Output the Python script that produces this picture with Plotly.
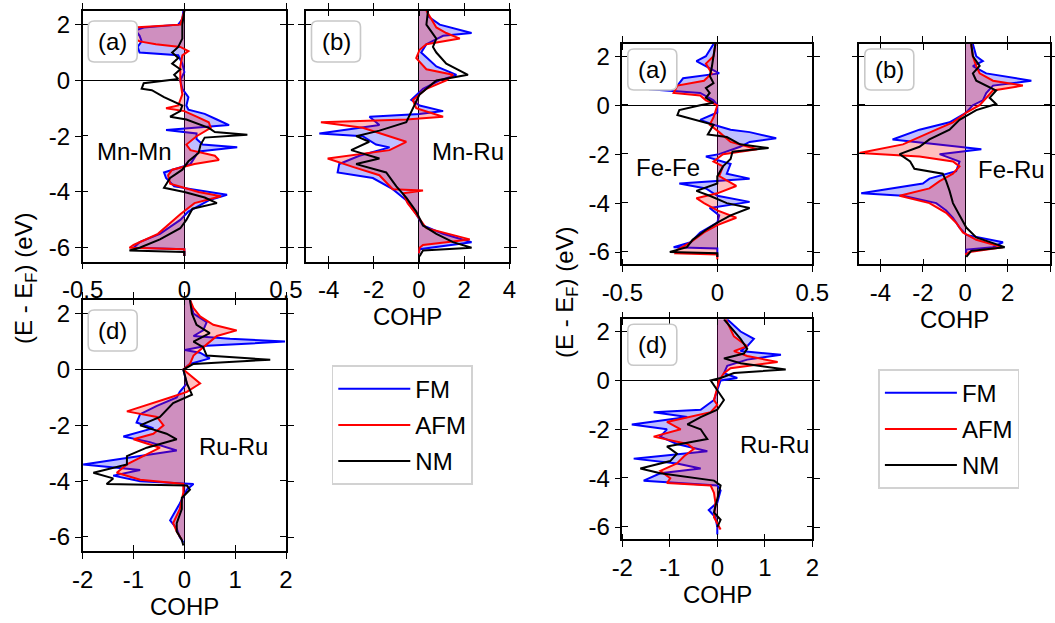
import plotly.graph_objects as go

W, H = 1055, 623
FONT = "Liberation Sans, Arial, Helvetica, sans-serif"
FS = 24

# ---------------- data: Mn compound ----------------
# (a) Mn-Mn
MNMN_FM_E = [2.5, 2.2, 2.0, 1.9, 1.8, 1.6, 1.4, 1.2, 1.0, 0.9, 0.6, 0.3, 0.0, -0.3, -0.6, -0.9, -1.05, -1.2, -1.4, -1.6,
             -1.7, -1.78, -1.9, -2.1, -2.3, -2.4, -2.55, -3.0, -3.3, -3.5, -3.8, -3.95, -4.1, -4.3, -4.7, -5.0, -5.5,
             -5.8, -6.0, -6.05, -6.3]
MNMN_FM_X = [-0.005, -0.01, -0.03, -0.20, -0.24, -0.22, -0.21, -0.23, -0.22, -0.03, -0.01, 0.0, -0.02, -0.01, 0.02,
             0.01, 0.02, 0.10, 0.16, 0.22, 0.05, -0.09, 0.06, 0.06, 0.09, 0.26, 0.07, 0.03, -0.10, -0.09, -0.05, 0.08,
             0.21, 0.12, 0.02, -0.02, -0.12, -0.22, -0.25, 0.0, 0.0]
MNMN_AFM_E = [2.5, 2.0, 1.9, 1.8, 1.6, 1.4, 1.3, 1.2, 1.05, 0.9, 0.5, 0.0, -0.5, -0.9, -1.0, -1.1, -1.3, -1.5, -1.7,
              -2.0, -2.3, -2.5, -2.7, -2.85, -3.0, -3.2, -3.4, -3.7, -4.0, -4.15, -4.4, -4.8, -5.5, -5.9, -6.0, -6.05,
              -6.3]
MNMN_AFM_X = [0.0, -0.02, -0.25, -0.28, -0.27, -0.22, -0.14, -0.02, 0.02, -0.01, -0.02, -0.02, -0.01, -0.03, -0.09,
              0.0, 0.06, 0.12, 0.13, 0.06, 0.01, 0.03, 0.15, 0.17, 0.05, -0.06, -0.08, -0.07, 0.07, 0.18, 0.05, -0.02,
              -0.13, -0.25, -0.27, 0.0, 0.0]
MNMN_NM_E = [2.5, 2.0, 1.5, 1.2, 1.0, 0.8, 0.6, 0.4, 0.2, 0.05, -0.1, -0.3, -0.35, -0.6, -0.9, -1.1, -1.3, -1.4, -1.7,
             -1.85, -1.95, -2.05, -2.3, -2.6, -2.9, -3.2, -3.5, -3.85, -4.0, -4.2, -4.4, -4.6, -5.0, -5.3, -5.7, -6.0,
             -6.1, -6.15, -6.3]
MNMN_NM_X = [0.0, -0.01, -0.01, -0.03, -0.06, -0.03, -0.06, -0.02, -0.05, -0.03, -0.20, -0.21, -0.16, -0.10, -0.01,
             -0.02, -0.07, 0.01, 0.12, 0.15, 0.31, 0.10, 0.08, 0.07, 0.02, -0.01, -0.07, -0.10, 0.0, 0.10, 0.16, 0.04,
             0.01, -0.02, -0.12, -0.22, -0.27, 0.0, 0.0]

# (b) Mn-Ru
MNRU_FM_E = [2.5, 2.3, 2.0, 1.7, 1.6, 1.3, 1.0, 0.5, 0.2, 0.0, -0.3, -0.7, -0.9, -1.1, -1.2, -1.3, -1.6, -1.9, -2.0,
             -2.3, -2.4, -2.7, -3.0, -3.3, -3.5, -3.9, -4.3, -4.8, -5.2, -5.5, -5.8, -6.0, -6.05, -6.2]
MNRU_FM_X = [0.4, 0.4, 0.92, 2.33, 1.07, 0.33, 0.1, 0.77, 1.66, 0.92, 0.18, -0.34, 0.03, 1.07, 0.03, -2.19, -1.75,
             -4.41, -2.49, -1.9, -1.3, -2.64, -3.53, -3.6, -2.04, -1.16, -0.56, -0.12, 0.18, 1.07, 2.33, 0.33, 0.03,
             0.0]
MNRU_AFM_E = [2.5, 1.9, 1.7, 1.5, 1.3, 1.1, 0.8, 0.4, 0.2, 0.0, -0.3, -0.7, -1.0, -1.3, -1.4, -1.5, -1.7, -2.0, -2.2,
              -2.5, -2.8, -3.1, -3.4, -3.9, -3.95, -4.05, -4.4, -4.8, -5.3, -5.7, -5.9, -6.0, -6.2]
MNRU_AFM_X = [0.33, 0.77, 1.21, 1.81, 0.33, 0.03, -0.12, 0.33, 1.51, 1.21, 0.33, -0.27, -0.12, 1.07, -0.56, -4.34,
              -2.49, -1.3, -0.56, -1.3, -4.04, -2.93, -1.75, -1.16, 0.18, -0.7, -0.5, -0.12, 0.33, 2.25, 0.18, 0.03,
              0.0]
MNRU_NM_E = [2.5, 2.0, 1.5, 1.2, 1.0, 0.6, 0.2, 0.0, -0.5, -1.0, -1.5, -1.8, -2.0, -2.2, -2.5, -2.8, -3.0, -3.3, -3.8,
             -4.2, -4.7, -5.2, -5.5, -5.8, -6.0, -6.1, -6.3]
MNRU_NM_X = [0.4, 0.33, 0.77, 0.62, 0.77, 1.21, 2.17, 0.77, 0.03, -0.27, -0.56, -1.75, -2.78, -2.2, -3.0, -1.75, -2.78,
             -1.45, -1.0, -0.56, -0.12, 0.18, 0.77, 1.51, 2.33, 0.18, 0.03]

# (d) Ru-Ru (Mn compound)
MNRURU_FM_E = [2.5, 2.0, 1.7, 1.4, 1.2, 1.1, 1.0, 0.85, 0.7, 0.6, 0.4, 0.2, 0.0, -0.5, -0.8, -1.0, -1.3, -1.6, -1.9,
               -2.1, -2.4, -2.6, -2.9, -3.1, -3.4, -3.6, -3.8, -4.0, -4.1, -4.3, -4.8, -5.4, -5.7, -6.0, -6.2]
MNRURU_FM_X = [0.11, 0.18, 0.44, 0.37, 0.18, 0.9, 1.98, 0.44, 0.01, 0.31, 0.5, 0.11, -0.02, 0.05, -0.09, -0.15, -0.54,
               -0.87, -0.94, -0.61, -1.2, -0.68, -0.15, -0.87, -1.99, -0.87, -1.4, -0.87, 0.18, 0.05, -0.09, -0.28,
               -0.15, -0.09, -0.02]
MNRURU_AFM_E = [2.5, 2.2, 1.9, 1.6, 1.4, 1.2, 0.9, 0.7, 0.5, 0.2, 0.0, -0.5, -0.8, -1.0, -1.5, -1.7, -2.0, -2.3, -2.5,
                -2.8, -3.1, -3.4, -3.7, -3.95, -4.1, -4.4, -5.0, -5.5, -5.8, -6.1]
MNRURU_AFM_X = [0.11, 0.18, 0.31, 0.57, 1.03, 0.64, 0.44, 0.31, 0.18, 0.11, -0.02, 0.31, 0.05, -0.28, -1.13, -0.54,
                -0.41, -0.61, -1.0, -0.48, -0.81, -1.13, -1.33, -0.87, -0.02, -0.02, -0.09, -0.22, -0.15, -0.05]
MNRURU_NM_E = [2.5, 2.0, 1.6, 1.3, 1.0, 0.8, 0.5, 0.35, 0.2, 0.0, -0.5, -0.9, -1.2, -1.7, -2.0, -2.3, -2.5, -2.8, -3.1,
               -3.4, -3.7, -3.9, -4.1, -4.15, -4.3, -4.6, -5.0, -5.5, -5.8, -6.1, -6.3]
MNRURU_NM_X = [0.11, 0.15, 0.24, 0.5, 0.18, 0.37, 0.44, 1.69, 0.18, -0.02, 0.05, 0.15, -0.22, -0.48, -0.87, -0.35,
               -0.15, -0.74, -1.13, -1.13, -1.79, -1.4, -1.53, 0.05, 0.11, -0.05, -0.05, -0.15, -0.15, -0.05, -0.02]

# ---------------- data: Fe compound ----------------
# (a) Fe-Fe
FEFE_FM_E = [2.5, 2.0, 1.8, 1.5, 1.3, 1.1, 0.8, 0.65, 0.5, 0.2, 0.0, -0.3, -0.6, -0.8, -1.0, -1.1, -1.35, -1.5, -1.7,
             -2.0, -2.1, -2.4, -2.8, -3.0, -3.2, -3.4, -3.7, -3.95, -4.2, -4.5, -4.8, -5.2, -5.6, -5.8, -5.85, -6.2]
FEFE_FM_X = [-0.02, -0.06, -0.11, -0.04, 0.01, -0.18, -0.21, -0.36, -0.09, -0.02, 0.0, 0.0, -0.09, -0.02, 0.07, 0.17,
             0.31, 0.17, 0.12, 0.01, -0.06, 0.07, 0.05, 0.17, -0.20, -0.06, 0.0, 0.17, -0.04, 0.01, 0.0, -0.09, -0.14,
             -0.23, 0.0, 0.0]
FEFE_AFM_E = [2.5, 2.0, 1.7, 1.3, 1.0, 0.8, 0.5, 0.4, 0.2, 0.0, -0.5, -0.8, -1.1, -1.5, -1.8, -2.0, -2.3, -2.5, -2.9,
              -3.3, -3.6, -3.8, -4.0, -4.3, -4.6, -4.9, -5.2, -5.6, -5.9, -6.05, -6.1, -6.3]
FEFE_AFM_X = [-0.01, -0.02, -0.06, -0.03, -0.07, -0.21, -0.23, -0.09, -0.06, 0.0, -0.02, -0.04, 0.01, 0.07, 0.21, 0.03,
              -0.02, 0.03, 0.01, 0.10, 0.0, -0.11, -0.07, 0.0, 0.10, 0.0, -0.07, -0.14, -0.21, -0.22, 0.0, 0.0]
FEFE_NM_E = [2.5, 2.0, 1.5, 1.2, 0.9, 0.7, 0.5, 0.3, 0.1, 0.0, -0.2, -0.4, -0.6, -0.8, -1.2, -1.3, -1.6, -1.75, -1.9,
             -2.2, -2.5, -2.9, -3.2, -3.5, -3.7, -4.0, -4.2, -4.5, -4.8, -5.1, -5.5, -5.8, -6.0, -6.05, -6.2]
FEFE_NM_X = [-0.01, -0.02, -0.03, -0.04, -0.02, -0.06, -0.04, -0.06, -0.02, -0.09, -0.20, -0.21, -0.11, -0.02, -0.05,
             0.05, 0.12, 0.27, 0.08, 0.07, 0.03, 0.0, 0.0, -0.11, -0.04, 0.05, 0.17, 0.07, 0.0, -0.06, -0.13, -0.16,
             -0.25, 0.0, 0.0]

# (b) Fe-Ru
FERU_FM_E = [2.5, 2.0, 1.8, 1.6, 1.3, 1.0, 0.8, 0.5, 0.2, 0.0, -0.3, -0.7, -1.0, -1.4, -1.6, -1.8, -2.0, -2.3, -2.7,
             -3.0, -3.2, -3.6, -3.7, -4.0, -4.3, -4.6, -5.0, -5.3, -5.6, -5.8, -5.9, -6.1]
FERU_FM_X = [0.36, 0.52, 0.83, 0.36, 0.99, 3.12, 1.31, 0.99, 0.83, 0.36, 0.05, -0.74, -2.16, -3.43, -1.37, 0.76, -1.21,
             -0.27, -0.43, -1.69, -2.0, -4.91, -2.94, -1.37, -0.9, -0.58, -0.27, 0.05, 1.78, 1.31, 0.05, 0.05]
FERU_AFM_E = [2.5, 2.0, 1.6, 1.3, 1.0, 0.8, 0.6, 0.3, 0.0, -0.3, -0.7, -1.0, -1.3, -1.6, -1.95, -2.1, -2.3, -2.5, -2.8,
              -3.1, -3.4, -3.7, -4.0, -4.4, -4.8, -5.2, -5.5, -5.8, -6.0, -6.1]
FERU_AFM_X = [0.28, 0.36, 0.52, 0.68, 1.31, 2.72, 1.31, 0.99, 0.68, 0.05, -0.58, -1.37, -2.16, -2.94, -5.0, -2.16,
              -0.58, -0.27, -0.58, -1.21, -1.69, -3.1, -1.69, -0.9, -0.43, -0.11, 0.52, 1.78, 0.2, 0.0]
FERU_NM_E = [2.5, 2.0, 1.6, 1.3, 1.0, 0.6, 0.3, 0.05, -0.2, -0.6, -1.0, -1.4, -1.7, -2.0, -2.3, -2.6, -2.8, -3.1, -3.5,
             -4.0, -4.5, -5.0, -5.4, -5.8, -5.95, -6.2]
FERU_NM_X = [0.28, 0.36, 0.68, 0.36, 0.52, 1.46, 1.15, 1.46, 0.52, -0.27, -0.74, -1.69, -2.16, -3.1, -2.6, -2.4, -1.06,
             -0.9, -0.74, -0.58, -0.27, 0.05, 0.52, 1.86, 0.28, 0.05]

# (d) Ru-Ru (Fe compound)
FERURU_FM_E = [2.5, 2.0, 1.7, 1.4, 1.2, 1.05, 0.85, 0.6, 0.3, 0.1, 0.0, -0.4, -0.8, -1.2, -1.3, -1.5, -1.8, -2.0, -2.3,
               -2.6, -2.9, -3.2, -3.4, -3.6, -3.8, -4.1, -4.3, -4.5, -5.0, -5.3, -5.6, -6.0, -6.3]
FERURU_FM_X = [0.21, 0.49, 0.77, 0.63, 0.49, 1.34, 0.63, 0.21, 0.14, 0.42, 0.07, 0.0, -0.07, -0.35, -1.34, -0.63, -1.8,
               -1.06, -1.2, -0.85, -0.21, -1.76, -0.85, -0.35, -1.2, -1.55, 0.0, 0.07, 0.0, -0.18, -0.04, 0.0, 0.0]
FERURU_AFM_E = [2.5, 2.1, 1.8, 1.4, 1.2, 1.0, 0.75, 0.5, 0.3, 0.0, -0.3, -0.8, -1.0, -1.3, -1.7, -2.0, -2.3, -2.6,
                -2.8, -3.1, -3.4, -3.7, -4.0, -4.2, -4.3, -4.6, -5.0, -5.6, -6.1]
FERURU_AFM_X = [0.18, 0.28, 0.35, 0.63, 0.35, 0.63, 1.27, 0.28, 0.14, 0.04, 0.0, -0.07, 0.0, -0.14, -1.06, -0.77, -1.34,
                -0.63, -0.49, -0.7, -0.85, -1.2, -0.99, -1.06, -0.14, -0.07, -0.04, -0.07, 0.07]
FERURU_NM_E = [2.5, 2.0, 1.7, 1.3, 1.1, 0.9, 0.7, 0.45, 0.3, 0.1, 0.0, -0.4, -0.8, -1.2, -1.5, -1.8, -2.0, -2.2, -2.4,
               -2.7, -3.0, -3.3, -3.6, -3.8, -4.0, -4.1, -4.3, -4.8, -5.4, -5.7, -6.0]
FERURU_NM_X = [0.14, 0.35, 0.49, 0.63, 0.56, 0.14, 0.49, 1.44, 0.35, 0.07, -0.14, 0.0, 0.14, 0.0, -0.35, -0.63, -0.35,
               -0.28, -0.21, -1.06, -0.85, -0.99, -1.62, -1.2, -0.49, -0.07, 0.07, 0.0, -0.07, 0.07, 0.0]

# ---------------- axes / labels ----------------
E_RANGE = [-6.5, 2.5]
E_TICKS = [2, 0, -2, -4, -6]
E_TICKTEXT = ["2", "0", "-2", "-4", "-6"]
XT_A = [-0.5, 0, 0.5]
XT_A_TEXT = ["-0.5", "0", "0.5"]
XT_B = [-4, -2, 0, 2, 4]
XT_B_TEXT = ["-4", "-2", "0", "2", "4"]
XT_D = [-2, -1, 0, 1, 2]
XT_D_TEXT = ["-2", "-1", "0", "1", "2"]
SERIES = ["FM", "AFM", "NM"]
COLORS = {"FM": "rgb(0,0,255)", "AFM": "rgb(255,0,0)", "NM": "rgb(0,0,0)"}
FILLS = {"FM": "rgba(0,0,255,0.25)", "AFM": "rgba(255,0,0,0.25)"}

# panel definitions: (pair label, panel tag, x range, ticks, ticktext, show y labels,
#                     domain px (x0, x1, ytop, ybottom), group, data, label pos px)
PANELS = [
    ("Mn-Mn", "(a)", [-0.5, 0.5], XT_A, XT_A_TEXT, True, (82.7, 286.0, 10.7, 261.7), 1,
     {"FM": (MNMN_FM_E, MNMN_FM_X), "AFM": (MNMN_AFM_E, MNMN_AFM_X), "NM": (MNMN_NM_E, MNMN_NM_X)}, (134, 152)),
    ("Mn-Ru", "(b)", [-5, 4], XT_B, XT_B_TEXT, False, (306.0, 509.3, 10.7, 261.7), 1,
     {"FM": (MNRU_FM_E, MNRU_FM_X), "AFM": (MNRU_AFM_E, MNRU_AFM_X), "NM": (MNRU_NM_E, MNRU_NM_X)}, (468, 152)),
    ("Ru-Ru", "(d)", [-2, 2], XT_D, XT_D_TEXT, True, (82.7, 286.0, 299.7, 551.0), 1,
     {"FM": (MNRURU_FM_E, MNRURU_FM_X), "AFM": (MNRURU_AFM_E, MNRURU_AFM_X), "NM": (MNRURU_NM_E, MNRURU_NM_X)},
     (233, 446)),
    ("Fe-Fe", "(a)", [-0.5, 0.5], XT_A, XT_A_TEXT, True, (622.3, 812.3, 44.0, 264.3), 2,
     {"FM": (FEFE_FM_E, FEFE_FM_X), "AFM": (FEFE_AFM_E, FEFE_AFM_X), "NM": (FEFE_NM_E, FEFE_NM_X)}, (668, 167)),
    ("Fe-Ru", "(b)", [-5, 4], XT_B, XT_B_TEXT, False, (859.3, 1050.0, 44.0, 264.3), 2,
     {"FM": (FERU_FM_E, FERU_FM_X), "AFM": (FERU_AFM_E, FERU_AFM_X), "NM": (FERU_NM_E, FERU_NM_X)}, (1011, 169)),
    ("Ru-Ru", "(d)", [-2, 2], XT_D, XT_D_TEXT, True, (622.3, 812.3, 319.3, 539.3), 2,
     {"FM": (FERURU_FM_E, FERURU_FM_X), "AFM": (FERURU_AFM_E, FERURU_AFM_X), "NM": (FERURU_NM_E, FERURU_NM_X)},
     (774, 444)),
]


def fx(p):
    return p / W


def fy(p):
    return 1 - p / H


def inward(vals, rng):
    # minor ticks (drawn inward) sitting on the major tick positions -> crossing ticks
    eps = (rng[1] - rng[0]) * 0.001
    return dict(tickmode="array", tickvals=[v + eps for v in vals], ticks="inside", ticklen=6,
                tickwidth=1.4, tickcolor="black", showgrid=False)


fig = go.Figure()
layout = {}
shapes = []
annotations = []

for i, (pair, tag, xr, xt, xtt, showy, dom, grp, data, lpos) in enumerate(PANELS, start=1):
    x0, x1, yt, yb = dom
    xa, ya = ("x" if i == 1 else f"x{i}"), ("y" if i == 1 else f"y{i}")
    legend_name = "legend" if grp == 1 else "legend2"
    first_of_group = i in (1, 4)
    for s in SERIES:
        E, X = data[s]
        if s in FILLS:
            fig.add_trace(go.Scatter(x=X, y=E, mode="lines", line=dict(width=0), fill="tozerox",
                                     fillcolor=FILLS[s], showlegend=False, hoverinfo="skip",
                                     xaxis=xa, yaxis=ya))
        fig.add_trace(go.Scatter(x=X, y=E, mode="lines", name=s,
                                 line=dict(color=COLORS[s], width=2),
                                 showlegend=first_of_group, legend=legend_name,
                                 legendgroup=f"{s}{grp}", xaxis=xa, yaxis=ya))

    common = dict(showgrid=False, tickfont=dict(family=FONT, size=FS, color="black"),
                  tickcolor="black", tickwidth=1.4, ticklen=6, ticks="outside", automargin=False,
                  showline=True, linecolor="black", linewidth=1.5, mirror="ticks",
                  zeroline=True, zerolinecolor="black", zerolinewidth=1.3)
    layout["xaxis" if i == 1 else f"xaxis{i}"] = dict(
        domain=[fx(x0), fx(x1)], anchor=ya, range=xr, tickmode="array", tickvals=xt, ticktext=xtt,
        minor=inward(xt, xr), **common)
    layout["yaxis" if i == 1 else f"yaxis{i}"] = dict(
        domain=[fy(yb), fy(yt)], anchor=xa, range=E_RANGE, tickmode="array", tickvals=E_TICKS,
        ticktext=E_TICKTEXT, showticklabels=showy, minor=inward(E_TICKS, E_RANGE), **common)

    # rounded tag box
    off_y = 10.3 if grp == 1 else 5.0
    bx0, bx1 = x0 + 5.5, x0 + 5.5 + 49
    by0, by1 = yt + off_y, yt + off_y + 41
    r = 6
    path = (f"M {fx(bx0 + r)},{fy(by0)} L {fx(bx1 - r)},{fy(by0)} Q {fx(bx1)},{fy(by0)} {fx(bx1)},{fy(by0 + r)} "
            f"L {fx(bx1)},{fy(by1 - r)} Q {fx(bx1)},{fy(by1)} {fx(bx1 - r)},{fy(by1)} "
            f"L {fx(bx0 + r)},{fy(by1)} Q {fx(bx0)},{fy(by1)} {fx(bx0)},{fy(by1 - r)} "
            f"L {fx(bx0)},{fy(by0 + r)} Q {fx(bx0)},{fy(by0)} {fx(bx0 + r)},{fy(by0)} Z")
    shapes.append(dict(type="path", xref="paper", yref="paper", path=path,
                       line=dict(color="rgb(200,200,200)", width=1.6), fillcolor="white", layer="above"))
    annotations.append(dict(text=tag, x=fx((bx0 + bx1) / 2), y=fy((by0 + by1) / 2), xref="paper", yref="paper",
                            showarrow=False, font=dict(family=FONT, size=FS, color="black"),
                            xanchor="center", yanchor="middle"))
    annotations.append(dict(text=pair, x=fx(lpos[0]), y=fy(lpos[1]), xref="paper", yref="paper",
                            showarrow=False, font=dict(family=FONT, size=FS, color="black"),
                            xanchor="center", yanchor="middle"))

# axis titles
for (cx, cy) in [(407.7, 316), (184.4, 606), (954.7, 319), (717.3, 594)]:
    annotations.append(dict(text="COHP", x=fx(cx), y=fy(cy), xref="paper", yref="paper", showarrow=False,
                            font=dict(family=FONT, size=FS, color="black"), xanchor="center",
                            yanchor="middle"))
for (cx, cy) in [(25, 278), (566, 292)]:
    annotations.append(dict(text="(E - E<sub>F</sub>) (eV)", x=fx(cx), y=fy(cy), xref="paper", yref="paper",
                            showarrow=False, textangle=-90,
                            font=dict(family=FONT, size=FS, color="black"),
                            xanchor="center", yanchor="middle"))

legend_style = dict(font=dict(family=FONT, size=FS, color="black"), bordercolor="rgb(210,210,210)",
                    borderwidth=1.6, bgcolor="white", xanchor="left", yanchor="top",
                    tracegroupgap=2, itemwidth=72)
layout["legend"] = dict(x=fx(331.7), y=fy(365), **legend_style)
layout["legend2"] = dict(x=fx(878.3), y=fy(369), **legend_style)

fig.update_layout(
    width=W, height=H, margin=dict(l=0, r=0, t=0, b=0, autoexpand=False), autosize=False,
    paper_bgcolor="white", plot_bgcolor="rgba(0,0,0,0)",
    shapes=shapes, annotations=annotations, **layout)

fig.write_html("out.html")
